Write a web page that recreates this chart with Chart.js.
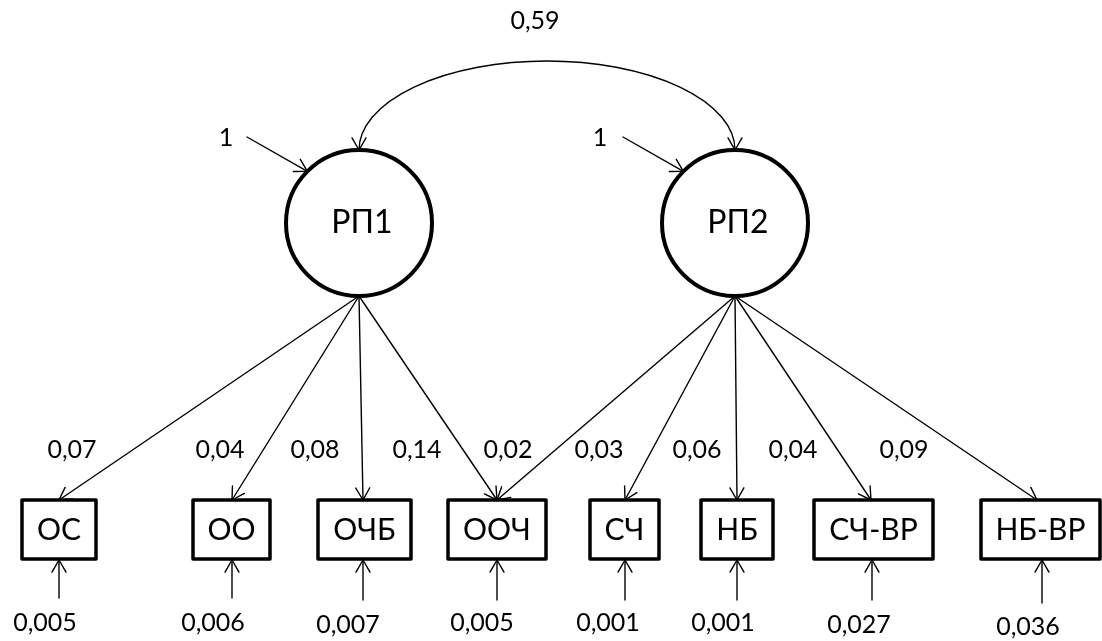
<!DOCTYPE html>
<html>
<head>
<meta charset="utf-8">
<script src="https://cdn.jsdelivr.net/npm/chart.js@4"></script>
<style>
    html, body { margin: 0; padding: 0; background: #fff; }
    #wrap { width: 1102px; height: 641px; }
</style>
</head>
<body>
<div id="wrap"><canvas id="pathChart" width="1102" height="641"></canvas></div>
<script>
// Données du modèle
const factors = ['РП1', 'РП2'];
const factorVar = [1, 1];
const factorCorr = 0.59;
const indicators = ['ОС', 'ОО', 'ОЧБ', 'ООЧ', 'СЧ', 'НБ', 'СЧ-ВР', 'НБ-ВР'];
const pathFrom = [0, 0, 0, 0, 1, 1, 1, 1, 1];
const pathTo = [0, 1, 2, 3, 3, 4, 5, 6, 7];
const loadings = [0.07, 0.04, 0.08, 0.14, 0.02, 0.03, 0.06, 0.04, 0.09];
const errorVar = [0.005, 0.006, 0.007, 0.005, 0.001, 0.001, 0.027, 0.036];

// Mise en page (coordonnées dans le repère des axes)
const factorPos = [[359, 223], [735, 223]];
const factorR = 73;
const boxLeft = [22, 193, 318, 448, 590, 701, 814, 981];
const boxRight = [96, 270, 411, 546, 659, 773, 933, 1100];
const boxTop = 500;
const boxBottom = 559;
const arrowInX = [59, 232, 363, 497, 625, 737, 871, 1037];
const errX = [59, 232, 363, 497, 625, 737, 872, 1042];
const errStartY = [598, 598, 600, 600, 600, 600, 600, 603];
const errLabelX = [45, 213, 348, 482, 608, 723, 859, 1028];
const errLabelY = [623, 623, 625, 623, 623, 623, 625, 627];
const loadLabelX = [72, 220, 315, 417, 508, 599, 697, 793, 904];
const loadLabelY = 450;
const varStart = [[247, 137], [623, 137]];
const varLabel = [[226, 138], [600, 138]];
const corrLabel = [535, 21];

const fmt = v => String(v).replace('.', ',');

function arrowHead(ctx, x0, y0, x1, y1, len) {
    const a = Math.atan2(y1 - y0, x1 - x0);
    ctx.beginPath();
    ctx.moveTo(x1 + len * Math.cos(a + Math.PI - Math.PI / 6), y1 + len * Math.sin(a + Math.PI - Math.PI / 6));
    ctx.lineTo(x1, y1);
    ctx.lineTo(x1 + len * Math.cos(a + Math.PI + Math.PI / 6), y1 + len * Math.sin(a + Math.PI + Math.PI / 6));
    ctx.stroke();
}

function arrow(ctx, x0, y0, x1, y1) {
    ctx.beginPath();
    ctx.moveTo(x0, y0);
    ctx.lineTo(x1, y1);
    ctx.stroke();
    arrowHead(ctx, x0, y0, x1, y1, 14);
}

const pathDiagram = {
    id: 'pathDiagram',
    afterDatasetsDraw(chart) {
        const ctx = chart.ctx;
        const sx = chart.scales.x, sy = chart.scales.y;
        const X = v => sx.getPixelForValue(v);
        const Y = v => sy.getPixelForValue(v);
        const k = X(1) - X(0);

        ctx.save();
        ctx.strokeStyle = '#000';
        ctx.fillStyle = '#000';
        ctx.lineCap = 'round';
        ctx.lineJoin = 'round';
        ctx.textAlign = 'center';
        ctx.textBaseline = 'middle';

        // Corrélation entre facteurs
        ctx.lineWidth = 1.4;
        const [ax, ay] = factorPos[0];
        const [bx] = factorPos[1];
        const cx = (ax + bx) / 2, rx = (bx - ax) / 2, topY = ay - factorR;
        ctx.beginPath();
        ctx.ellipse(X(cx), Y(topY), rx * k, (topY - 61) * k, 0, Math.PI, 2 * Math.PI);
        ctx.stroke();
        arrowHead(ctx, X(ax), Y(topY) - 20, X(ax), Y(topY), 14);
        arrowHead(ctx, X(bx), Y(topY) - 20, X(bx), Y(topY), 14);
        ctx.font = '25px Lato';
        ctx.fillText(fmt(factorCorr), X(corrLabel[0]), Y(corrLabel[1]));

        // Variances des facteurs
        factors.forEach((f, i) => {
            const [fx, fy] = factorPos[i];
            const ex = fx - factorR * Math.SQRT1_2, ey = fy - factorR * Math.SQRT1_2;
            arrow(ctx, X(varStart[i][0]), Y(varStart[i][1]), X(ex), Y(ey));
            ctx.fillText(fmt(factorVar[i]), X(varLabel[i][0]), Y(varLabel[i][1]));
        });

        // Saturations
        pathFrom.forEach((f, i) => {
            const [fx, fy] = factorPos[f];
            arrow(ctx, X(fx), Y(fy + factorR), X(arrowInX[pathTo[i]]), Y(boxTop));
            ctx.fillText(fmt(loadings[i]), X(loadLabelX[i]), Y(loadLabelY));
        });

        // Erreurs
        indicators.forEach((name, i) => {
            arrow(ctx, X(errX[i]), Y(errStartY[i]), X(errX[i]), Y(boxBottom + 1));
            ctx.fillText(fmt(errorVar[i]), X(errLabelX[i]), Y(errLabelY[i]));
        });

        // Cercles des facteurs
        ctx.lineWidth = 4;
        factors.forEach((f, i) => {
            const [fx, fy] = factorPos[i];
            ctx.beginPath();
            ctx.arc(X(fx), Y(fy), factorR * k, 0, 2 * Math.PI);
            ctx.stroke();
        });
        ctx.font = '32px Lato';
        factors.forEach((f, i) => {
            ctx.fillText(f, X(factorPos[i][0] + 3), Y(factorPos[i][1]));
        });

        // Indicateurs
        ctx.lineWidth = 3.5;
        ctx.font = '30px Lato';
        indicators.forEach((name, i) => {
            ctx.fillStyle = '#fff';
            ctx.fillRect(X(boxLeft[i]), Y(boxTop), X(boxRight[i]) - X(boxLeft[i]), Y(boxBottom) - Y(boxTop));
            ctx.strokeRect(X(boxLeft[i]), Y(boxTop), X(boxRight[i]) - X(boxLeft[i]), Y(boxBottom) - Y(boxTop));
            ctx.fillStyle = '#000';
            ctx.fillText(name, X((boxLeft[i] + boxRight[i]) / 2), Y((boxTop + boxBottom) / 2 + 1));
        });
        ctx.restore();
    }
};

new Chart(document.getElementById('pathChart'), {
    type: 'scatter',
    data: {
        datasets: [{
            data: indicators.map((n, i) => ({ x: arrowInX[i], y: boxTop })),
            pointRadius: 0
        }]
    },
    options: {
        responsive: false,
        animation: false,
        layout: { padding: 0 },
        plugins: { legend: { display: false }, tooltip: { enabled: false } },
        scales: {
            x: { type: 'linear', min: 0, max: 1102, display: false },
            y: { type: 'linear', min: 0, max: 641, reverse: true, display: false }
        }
    },
    plugins: [pathDiagram]
});
</script>
</body>
</html>
